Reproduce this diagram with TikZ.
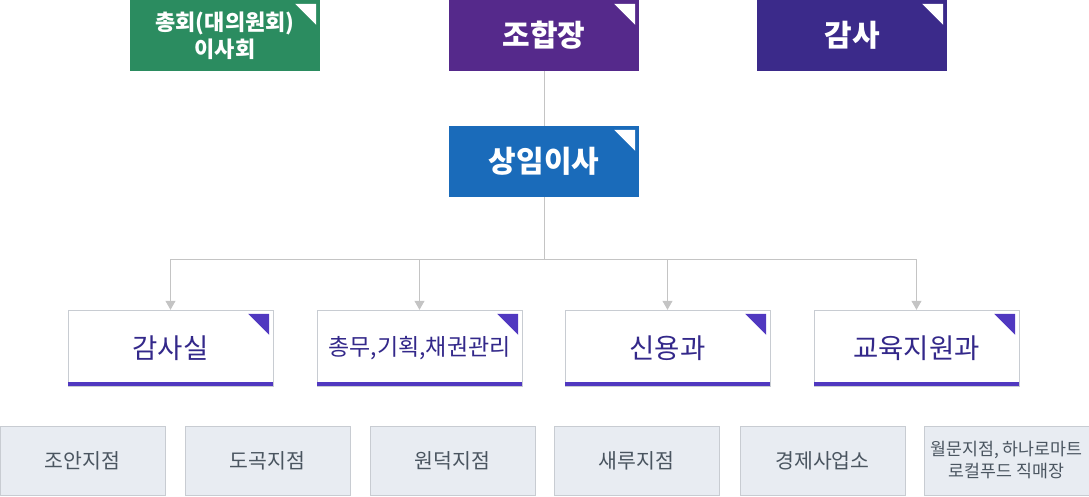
\documentclass[tikz,border=0pt]{standalone}
\usepackage{fontspec}
\setmainfont{Noto Sans CJK KR}
\usepackage{tikz}
\usetikzlibrary{arrows.meta}

\definecolor{assembly}{HTML}{2B8C60}
\definecolor{chairman}{HTML}{55298B}
\definecolor{auditor}{HTML}{3B2A8A}
\definecolor{director}{HTML}{1A6BBA}
\definecolor{deptink}{HTML}{33288A}
\definecolor{deptbar}{HTML}{5038C0}
\definecolor{linkgray}{HTML}{C4C4C4}
\definecolor{branchfill}{HTML}{E8ECF2}
\definecolor{branchline}{HTML}{C8CCD2}
\definecolor{branchink}{HTML}{4A5560}

% corner flag in the upper right of a box
\newcommand{\flag}[2]{\fill[#2] ([shift={(-4,4)}]#1.north east) -- ++(-21,0) -- ++(21,21) -- cycle;}

\begin{document}
\begin{tikzpicture}[x=1pt, y=-1pt,
  top/.style={text=white, font=\bfseries\fontsize{30}{34}\selectfont, minimum width=190pt, minimum height=71pt, inner sep=0pt},
  dept/.style={draw=branchline, fill=white, text=deptink, font=\fontsize{27.5}{32}\selectfont, minimum width=205pt, minimum height=76pt, inner sep=0pt},
  branch/.style={draw=branchline, fill=branchfill, text=branchink, font=\fontsize{20.5}{24}\selectfont, minimum width=165pt, minimum height=69pt, inner sep=0pt, align=center},
  link/.style={draw=linkgray, line width=1pt},
  arr/.style={link, -{Triangle[width=10pt, length=9pt]}}]
  \useasboundingbox (0,0) rectangle (1089,496);

  \node (t0) [top, fill=assembly, align=center, font=\bfseries\fontsize{22}{27}\selectfont] at (225,35.5) {총회(대의원회)\\이사회};
  \node (t1) [top, fill=chairman] at (544,35.5) {조합장};
  \node (t2) [top, fill=auditor] at (852,35.5) {감사};
  \node (m0) [top, fill=director] at (544,161.5) {상임이사};
  \flag{t0}{white}
  \flag{t1}{white}
  \flag{t2}{white}
  \flag{m0}{white}

  \coordinate (j) at (544,259);
  \draw[link] (t1) -- (m0);
  \draw[link] (m0) -- (j);

  \node (d0) [dept] at (170.5,348) {감사실};
  \node (d1) [dept, font=\fontsize{23}{27}\selectfont] at (419.5,348) {총무,기획,채권관리};
  \node (d2) [dept] at (667.5,348) {신용과};
  \node (d3) [dept] at (916.5,348) {교육지원과};
  \fill[deptbar] ([yshift=0.5pt]d0.south west) rectangle ++(205,-4);
  \fill[deptbar] ([yshift=0.5pt]d1.south west) rectangle ++(205,-4);
  \fill[deptbar] ([yshift=0.5pt]d2.south west) rectangle ++(205,-4);
  \fill[deptbar] ([yshift=0.5pt]d3.south west) rectangle ++(205,-4);
  \flag{d0}{deptbar}
  \flag{d1}{deptbar}
  \flag{d2}{deptbar}
  \flag{d3}{deptbar}

  \draw[arr] (j) -| (d0.north);
  \draw[arr] (j) -| (d1.north);
  \draw[arr] (j) -| (d2.north);
  \draw[arr] (j) -| (d3.north);

  \node (b0) [branch] at (82.5,460.5) {조안지점};
  \node (b1) [branch] at (267.5,460.5) {도곡지점};
  \node (b2) [branch] at (452.5,460.5) {원덕지점};
  \node (b3) [branch] at (636.5,460.5) {새루지점};
  \node (b4) [branch] at (822.5,460.5) {경제사업소};
  \node (b5) [branch, font=\fontsize{17.3}{22}\selectfont] at (1006.5,460.5) {월문지점, 하나로마트\\로컬푸드 직매장};
\end{tikzpicture}
\end{document}
